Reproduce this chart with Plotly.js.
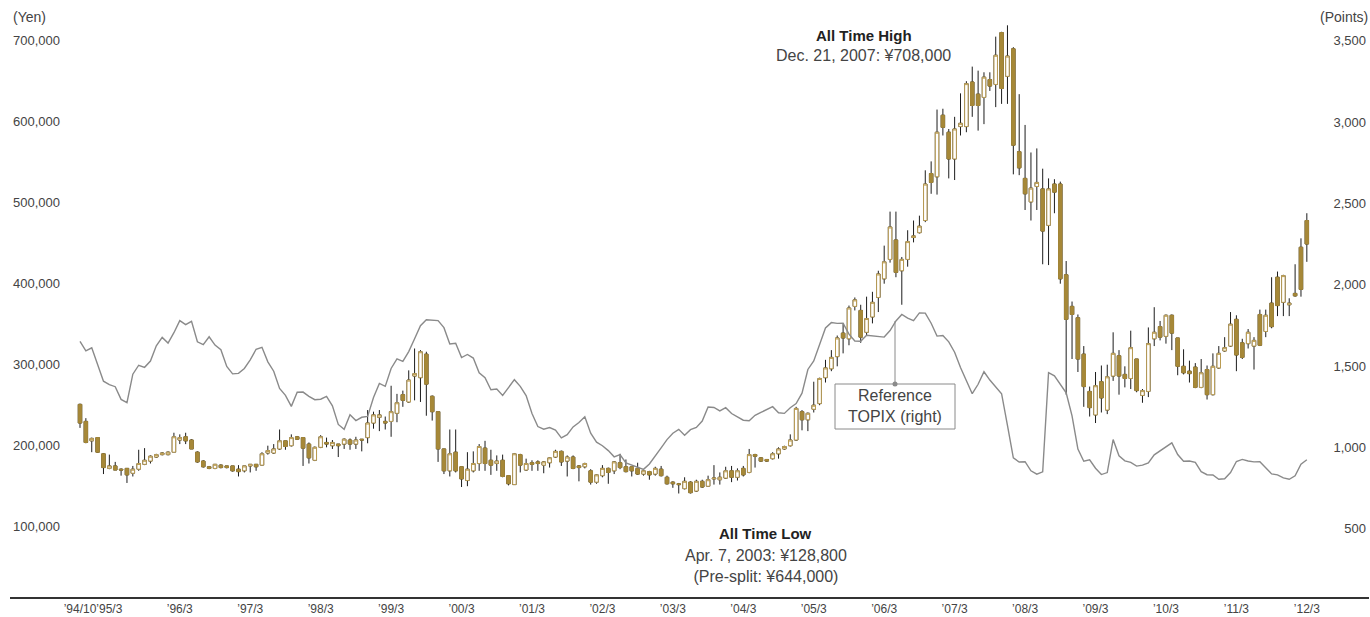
<!DOCTYPE html>
<html><head><meta charset="utf-8">
<script src="https://cdn.plot.ly/plotly-3.0.1.min.js"></script>
<style>html,body{margin:0;padding:0;background:#fff;}#chart{width:1370px;height:617px;}</style>
</head><body><div id="chart"></div>
<script>
// Monthly share price candles (thousand yen), Oct 1994 - Mar 2012
const startYear = 1994, startMonth = 10, monthCount = 210;
const months = [];
for (let k = 0; k < monthCount; k++) {
  const m = startMonth - 1 + k;
  months.push((startYear + Math.floor(m / 12)) + '-' + String((m % 12) + 1).padStart(2, '0'));
}

const openK = [
251,230,206,210,190,172,175,171,172,166,
171,177,181,186,189,189,192,207,211,207,
192,181,174,172,176,175,175,171,169,175,
177,176,191,191,196,206,200,211,210,202,
182,198,204,200,202,202,207,202,208,210,
228,235,230,230,240,263,254,286,284,313,
261,242,196,169,192,174,157,169,178,197,
182,178,182,163,152,189,170,179,180,176,
179,186,193,181,186,175,174,169,155,163,
172,169,179,174,174,172,165,168,165,171,
161,155,153,147,155,144,156,150,159,158,
160,169,161,172,167,189,185,183,184,190,
196,200,207,242,232,245,252,284,295,310,
339,332,372,367,340,359,383,406,430,454,
416,430,457,463,478,536,532,608,587,554,
594,594,649,634,630,652,646,710,656,690,
563,530,501,520,517,472,523,523,411,372,
358,313,267,238,279,244,286,311,288,283,
307,262,267,332,347,335,361,333,298,292,
297,272,294,263,296,317,323,356,327,326,
323,362,341,376,408,377,374,388,445,478];

const highK = [
252,234,210,210,191,189,180,172,172,175,
195,197,188,190,192,193,216,214,216,208,
193,182,175,177,177,175,175,176,175,177,
177,192,200,202,220,206,214,212,210,204,
199,213,210,207,202,209,209,211,208,244,
242,244,236,274,264,268,293,320,318,316,
262,242,196,220,220,174,192,193,202,206,
195,188,189,163,191,190,184,182,182,181,
186,195,194,188,188,176,179,171,165,176,
173,181,190,183,174,179,170,169,174,175,
163,156,154,161,156,158,158,163,176,167,
174,175,172,175,196,190,186,183,192,198,
200,214,248,244,241,279,284,306,318,336,
351,373,383,374,384,390,416,447,489,489,
433,466,478,484,540,551,615,616,591,606,
635,650,668,663,661,661,705,711,719,692,
634,596,562,567,542,530,529,526,428,378,
362,323,273,291,299,300,340,318,298,342,
307,270,346,371,354,362,362,333,319,305,
302,307,299,314,323,334,365,361,332,344,
334,368,368,408,415,411,382,424,456,487];

const lowK = [
222,203,192,191,165,171,170,163,154,162,
169,176,178,185,188,188,192,202,202,196,
179,173,171,171,172,172,168,162,167,167,
169,175,189,190,195,195,199,207,175,178,
181,197,198,196,186,196,195,196,193,203,
221,218,220,211,229,248,253,256,254,237,
231,180,165,162,167,149,150,167,169,169,
164,169,161,151,152,167,169,169,169,166,
173,185,175,162,171,156,172,152,153,161,
153,165,171,167,162,164,163,158,163,162,
152,148,141,146,141,143,148,149,152,152,
159,155,157,162,166,173,180,180,183,184,
195,199,206,219,218,241,250,278,292,298,
314,324,367,327,336,351,365,400,426,408,
374,421,451,462,476,511,510,583,530,528,
583,587,606,589,597,638,618,622,622,535,
534,491,478,491,424,423,487,400,263,307,
291,248,236,228,241,239,280,263,272,270,
266,253,260,323,330,326,318,287,288,278,
271,271,257,262,295,316,322,292,307,320,
294,323,334,345,360,360,360,384,384,427];

const closeK = [
228,204,209,192,173,175,170,170,164,171,
178,182,187,189,191,192,211,210,206,196,
180,174,172,177,173,173,169,168,175,177,
174,190,194,196,206,199,210,208,197,185,
198,211,202,204,200,208,202,207,207,228,
238,238,228,242,253,256,281,289,316,276,
242,196,169,190,169,159,171,178,199,178,
176,181,162,153,190,176,178,177,178,180,
185,193,180,186,172,173,178,155,164,172,
167,180,173,168,169,165,169,164,172,163,
153,153,152,156,142,156,149,158,160,161,
169,161,169,164,189,187,181,181,190,196,
199,207,246,232,240,250,283,296,309,333,
333,370,380,334,357,377,412,427,470,414,
430,452,459,471,523,525,587,593,554,591,
598,647,620,620,655,644,682,641,681,571,
543,511,518,525,465,517,513,406,356,362,
307,273,247,274,259,285,314,286,283,321,
268,268,326,340,334,361,339,298,290,289,
272,290,263,298,314,321,350,312,309,340,
330,324,361,347,373,410,376,385,393,449];

// Reference TOPIX (points, right axis)
const topix = [
1652,1593,1612,1507,1407,1386,1373,1295,1275,1450,
1505,1492,1531,1624,1676,1641,1705,1779,1755,1775,
1649,1631,1680,1629,1600,1497,1452,1455,1485,1538,
1603,1615,1526,1468,1362,1320,1252,1339,1340,1314,
1293,1296,1314,1255,1141,1111,1200,1165,1185,1190,
1307,1393,1375,1485,1544,1529,1589,1668,1748,1785,
1783,1779,1736,1636,1640,1552,1571,1549,1459,1428,
1354,1359,1319,1368,1416,1375,1318,1208,1128,1112,
1122,1106,1058,1078,1126,1153,1188,1087,1032,1010,
980,942,956,905,891,880,865,898,951,997,
1048,1087,1111,1075,1109,1123,1162,1248,1245,1224,
1244,1208,1188,1167,1164,1197,1215,1234,1250,1213,
1209,1244,1269,1333,1479,1531,1631,1734,1767,1762,
1763,1696,1654,1652,1689,1685,1679,1678,1718,1777,
1817,1795,1779,1827,1825,1763,1684,1688,1649,1585,
1491,1408,1330,1388,1465,1414,1372,1330,1135,935,
910,912,856,835,850,1460,1440,1385,1335,1194,
990,915,924,872,833,845,1048,948,917,908,
885,891,905,954,978,1003,1028,956,915,916,
908,851,832,830,804,807,845,913,926,916,
911,912,873,837,831,812,804,825,897,924];

const tickMonths = ['1994-10','1995-03','1996-03','1997-03','1998-03','1999-03','2000-03','2001-03','2002-03','2003-03','2004-03','2005-03','2006-03','2007-03','2008-03','2009-03','2010-03','2011-03','2012-03'];
const tickText = ['\u201994/10','\u201995/3','\u201996/3','\u201997/3','\u201998/3','\u201999/3','\u201900/3','\u201901/3','\u201902/3','\u201903/3','\u201904/3','\u201905/3','\u201906/3','\u201907/3','\u201908/3','\u201909/3','\u201910/3','\u201911/3','\u201912/3'];
const yenTicks = [100000,200000,300000,400000,500000,600000,700000];
const pointTicks = [500,1000,1500,2000,2500,3000,3500];

const K = 1000;
const o = openK.map(v => v * K), h = highK.map(v => v * K), l = lowK.map(v => v * K), c = closeK.map(v => v * K);

const FONT = 'Liberation Sans, Arial, sans-serif';
const GOLD = '#A68838', GOLD_LINE = '#BA9C52', WICK = '#1c1c1c', GREY = '#8a8a8a';

const wicks = {
  type: 'candlestick', x: months, open: o, high: h, low: l, close: c,
  whiskerwidth: 0,
  increasing: {line: {color: WICK, width: 1}, fillcolor: 'rgba(0,0,0,0)'},
  decreasing: {line: {color: WICK, width: 1}, fillcolor: 'rgba(0,0,0,0)'},
  hoverinfo: 'skip', showlegend: false
};
const bodies = {
  type: 'candlestick', x: months, open: o, close: c,
  high: o.map((v, i) => Math.max(v, c[i])), low: o.map((v, i) => Math.min(v, c[i])),
  whiskerwidth: 0,
  increasing: {line: {color: GOLD_LINE, width: 1}, fillcolor: '#ffffff'},
  decreasing: {line: {color: GOLD, width: 1}, fillcolor: GOLD},
  showlegend: false
};
const topixLine = {
  type: 'scatter', mode: 'lines', x: months, y: topix, yaxis: 'y2',
  line: {color: GREY, width: 1.4}, showlegend: false
};

function px(xp) { return (xp - 10) / 1359; }
function py(yp) { return (597 - yp) / 587; }

const layout = {
  width: 1370, height: 617,
  margin: {l: 10, r: 1, t: 10, b: 20},
  paper_bgcolor: '#ffffff', plot_bgcolor: 'rgba(0,0,0,0)',
  showlegend: false, boxgap: 0.16, boxmode: 'overlay',
  xaxis: {
    type: 'category', range: [-11.925, 219.59],
    tickmode: 'array', tickvals: tickMonths, ticktext: tickText, tickangle: 0,
    showgrid: false, zeroline: false, showline: true, linecolor: '#333', linewidth: 1.5,
    ticks: '', ticklabelstandoff: 0,
    tickfont: {family: FONT, size: 12, color: '#444'},
    rangeslider: {visible: false}, fixedrange: true
  },
  yaxis: {
    range: [13210, 737901], tickmode: 'array', tickvals: yenTicks, tickformat: ',d',
    ticklabelposition: 'inside', showgrid: false, zeroline: false, showline: false, ticks: '',
    tickfont: {family: FONT, size: 13, color: '#444'}, fixedrange: true
  },
  yaxis2: {
    overlaying: 'y', side: 'right', range: [80.2, 3688.7],
    tickmode: 'array', tickvals: pointTicks, tickformat: ',d',
    ticklabelposition: 'inside', showgrid: false, zeroline: false, showline: false, ticks: '',
    tickfont: {family: FONT, size: 13, color: '#444'}, fixedrange: true
  },
  annotations: [
    {xref: 'paper', yref: 'paper', x: px(11), y: py(17), xanchor: 'left', yanchor: 'middle', showarrow: false,
     text: '(Yen)', font: {family: FONT, size: 14, color: '#444'}},
    {xref: 'paper', yref: 'paper', x: px(1370), y: py(17), xanchor: 'right', yanchor: 'middle', showarrow: false,
     text: '(Points)', font: {family: FONT, size: 14, color: '#444'}},
    {xref: 'paper', yref: 'paper', x: px(864), y: py(35), xanchor: 'center', yanchor: 'middle', showarrow: false,
     text: '<b>All Time High</b>', font: {family: FONT, size: 15, color: '#222'}},
    {xref: 'paper', yref: 'paper', x: px(864), y: py(56), xanchor: 'center', yanchor: 'middle', showarrow: false,
     text: 'Dec. 21, 2007: \u00a5708,000', font: {family: FONT, size: 16, color: '#444'}},
    {xref: 'paper', yref: 'paper', x: px(766), y: py(533), xanchor: 'center', yanchor: 'middle', showarrow: false,
     text: '<b>All Time Low</b>', font: {family: FONT, size: 15, color: '#222'}},
    {xref: 'paper', yref: 'paper', x: px(766), y: py(565.5), xanchor: 'center', yanchor: 'middle', showarrow: false,
     text: 'Apr. 7, 2003: \u00a5128,800<br>(Pre-split: \u00a5644,000)', font: {family: FONT, size: 16, color: '#444'}},
    {xref: 'paper', yref: 'paper', x: px(895), y: py(406), xanchor: 'center', yanchor: 'middle', showarrow: false,
     text: 'Reference<br>TOPIX (right)', font: {family: FONT, size: 16, color: '#444'}}
  ],
  shapes: [
    {type: 'rect', xref: 'paper', yref: 'paper', x0: px(835), x1: px(955), y0: py(429), y1: py(384),
     line: {color: GREY, width: 1}, fillcolor: 'rgba(255,255,255,0)'},
    {type: 'line', xref: 'paper', yref: 'paper', x0: px(895), x1: px(895), y0: py(384), y1: py(321),
     line: {color: GREY, width: 1}},
    {type: 'circle', xref: 'paper', yref: 'paper', xsizemode: 'pixel', ysizemode: 'pixel',
     xanchor: px(895), yanchor: py(384), x0: -2.5, x1: 2.5, y0: -2.5, y1: 2.5,
     line: {color: GREY, width: 0}, fillcolor: GREY}
  ]
};

Plotly.newPlot('chart', [wicks, bodies, topixLine], layout, {displayModeBar: false, staticPlot: true});
</script>
</body></html>
